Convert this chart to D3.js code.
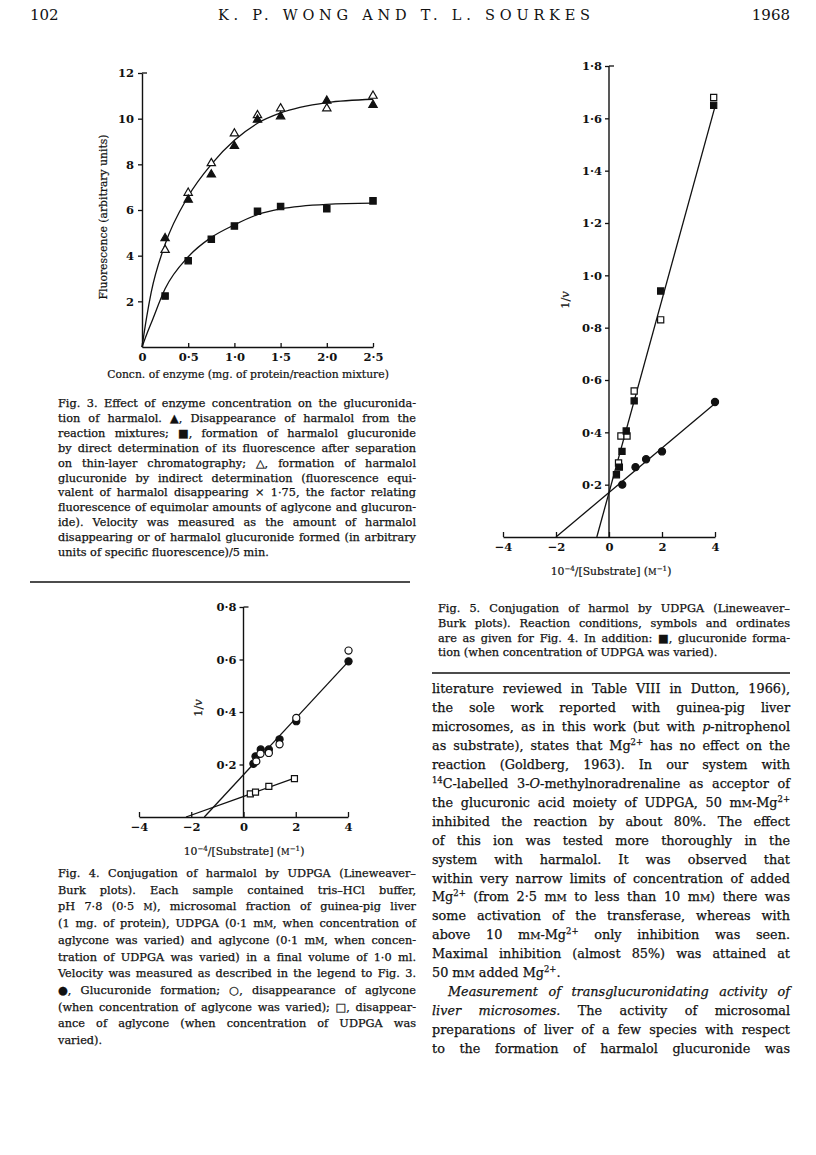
<!DOCTYPE html>
<html><head><meta charset="utf-8">
<script src="https://cdn.jsdelivr.net/npm/d3@7"></script>
<style>body{margin:0;background:#fff}svg{display:block}</style>
</head><body>
<svg id="page" width="816" height="1155"></svg>
<script>
// ---------- DATA ----------
// Fig. 3
const fig3X = [0.25, 0.5, 0.75, 1.0, 1.25, 1.5, 2.0, 2.5];
const fig3Disappearance = [4.76, 6.45, 7.55, 8.8, 9.95, 10.1, 10.78, 10.6];   // filled triangles
const fig3Indirect = [4.25, 6.75, 8.05, 9.35, 10.15, 10.45, 10.45, 11.0];     // open triangles
const fig3Direct = [2.23, 3.78, 4.72, 5.3, 5.95, 6.15, 6.05, 6.4];            // filled squares
const fig3CurveX = [0, 0.05, 0.1, 0.25, 0.5, 0.75, 1.0, 1.25, 1.5, 2.0, 2.5];
const fig3UpperCurve = [0, 1.3, 2.4, 4.5, 6.6, 8.0, 9.05, 9.8, 10.25, 10.7, 10.85];
const fig3LowerCurve = [0, 0.55, 1.05, 2.55, 3.95, 4.8, 5.35, 5.8, 6.05, 6.25, 6.3];
const fig3XTicks = [0, 0.5, 1.0, 1.5, 2.0, 2.5];
const fig3YTicks = [2, 4, 6, 8, 10, 12];

// Fig. 4
const fig4FilledCircX = [0.38, 0.46, 0.66, 0.97, 1.38, 2.02, 4.02];
const fig4FilledCircY = [0.203, 0.231, 0.257, 0.257, 0.296, 0.365, 0.593];
const fig4OpenCircX = [0.49, 0.65, 0.97, 1.38, 2.02, 4.02];
const fig4OpenCircY = [0.212, 0.241, 0.244, 0.277, 0.377, 0.634];
const fig4OpenSqX = [0.26, 0.46, 0.97, 1.95];
const fig4OpenSqY = [0.088, 0.095, 0.117, 0.146];
const fig4CircLineX = [-1.5, 4.02];
const fig4CircLineY = [0, 0.593];
const fig4SqLineX = [-2.2, 1.98];
const fig4SqLineY = [0, 0.149];
const fig4XTicks = [-4, -2, 0, 2, 4];
const fig4YTicks = [0.2, 0.4, 0.6, 0.8];

// Fig. 5
const fig5CircX = [0.5, 1.0, 1.4, 2.0, 4.0];
const fig5CircY = [0.2, 0.267, 0.297, 0.327, 0.516];
const fig5FilledSqX = [0.28, 0.39, 0.49, 0.65, 0.95, 1.95, 3.95];
const fig5FilledSqY = [0.238, 0.267, 0.327, 0.405, 0.52, 0.94, 1.65];
const fig5OpenSqX = [0.36, 0.45, 0.68, 0.95, 1.95, 3.95];
const fig5OpenSqY = [0.283, 0.386, 0.386, 0.558, 0.83, 1.68];
const fig5CircLineX = [-2.0, 4.0];
const fig5CircLineY = [0, 0.51];
const fig5SqLineX = [-0.46, 4.0];
const fig5SqLineY = [0, 1.645];
const fig5XTicks = [-4, -2, 0, 2, 4];
const fig5YTicks = [0.2, 0.4, 0.6, 0.8, 1.0, 1.2, 1.4, 1.6, 1.8];

// Text
const headerLeft = "102";
const headerTitle = "K. P. WONG AND T. L. SOURKES";
const headerRight = "1968";
const fig3AxisY = "Fluorescence (arbitrary units)";
const fig3AxisX = "Concn. of enzyme (mg. of protein/reaction mixture)";
const lbAxisY = "1/_v_";
const lbAxisX = "10^−4^/[Substrate] (~M~^−1^)";
const fig3Caption = [
  "Fig. 3. Effect of enzyme concentration on the glucuronida-",
  "tion of harmalol. ▲, Disappearance of harmalol from the",
  "reaction mixtures; ■, formation of harmalol glucuronide",
  "by direct determination of its fluorescence after separation",
  "on thin-layer chromatography; △, formation of harmalol",
  "glucuronide by indirect determination (fluorescence equi-",
  "valent of harmalol disappearing × 1·75, the factor relating",
  "fluorescence of equimolar amounts of aglycone and glucuron-",
  "ide). Velocity was measured as the amount of harmalol",
  "disappearing or of harmalol glucuronide formed (in arbitrary",
  "units of specific fluorescence)/5 min."
];
const fig4Caption = [
  "Fig. 4. Conjugation of harmalol by UDPGA (Lineweaver–",
  "Burk plots). Each sample contained tris–HCl buffer,",
  "pH 7·8 (0·5 ~M~), microsomal fraction of guinea-pig liver",
  "(1 mg. of protein), UDPGA (0·1 m~M~, when concentration of",
  "aglycone was varied) and aglycone (0·1 m~M~, when concen-",
  "tration of UDPGA was varied) in a final volume of 1·0 ml.",
  "Velocity was measured as described in the legend to Fig. 3.",
  "●, Glucuronide formation; ○, disappearance of aglycone",
  "(when concentration of aglycone was varied); □, disappear-",
  "ance of aglycone (when concentration of UDPGA was",
  "varied)."
];
const fig5Caption = [
  "Fig. 5. Conjugation of harmol by UDPGA (Lineweaver–",
  "Burk plots). Reaction conditions, symbols and ordinates",
  "are as given for Fig. 4. In addition: ■, glucuronide forma-",
  "tion (when concentration of UDPGA was varied)."
];
const bodyLines = [
  "literature reviewed in Table VIII in Dutton, 1966),",
  "the sole work reported with guinea-pig liver",
  "microsomes, as in this work (but with _p_-nitrophenol",
  "as substrate), states that Mg^2+^ has no effect on the",
  "reaction (Goldberg, 1963). In our system with",
  "^14^C-labelled 3-_O_-methylnoradrenaline as acceptor of",
  "the glucuronic acid moiety of UDPGA, 50 m~M~-Mg^2+^",
  "inhibited the reaction by about 80%. The effect",
  "of this ion was tested more thoroughly in the",
  "system with harmalol. It was observed that",
  "within very narrow limits of concentration of added",
  "Mg^2+^ (from 2·5 m~M~ to less than 10 m~M~) there was",
  "some activation of the transferase, whereas with",
  "above 10 m~M~-Mg^2+^ only inhibition was seen.",
  "Maximal inhibition (almost 85%) was attained at",
  "50 m~M~ added Mg^2+^.",
  "_Measurement of transglucuronidating activity of_",
  "_liver microsomes._ The activity of microsomal",
  "preparations of liver of a few species with respect",
  "to the formation of harmalol glucuronide was"
];
const bodyLastLines = [15];      // paragraph-final (not justified)
const bodyIndentLines = [16];    // paragraph-start indent

// ---------- DRAWING ----------
const svg = d3.select("#page");
svg.append("rect").attr("width", 816).attr("height", 1155).attr("fill", "#fff");
const SERIF = "'DejaVu Serif', 'Liberation Serif', serif";
const INK = "#111";

function rich(sel, str, fs) {
  const tokens = str.split(/(_[^_]+_|\^[^^]+\^|~[^~]+~)/).filter(s => s.length);
  let shifted = false;
  tokens.forEach(t => {
    const ts = sel.append("tspan");
    let txt = t, dy = 0;
    if (t[0] === "_" && t.length > 2) { ts.attr("font-style", "italic"); txt = t.slice(1, -1); }
    else if (t[0] === "^" && t.length > 2) { ts.attr("font-size", fs * 0.66); txt = t.slice(1, -1); dy = -fs * 0.4; }
    else if (t[0] === "~" && t.length > 2) { ts.attr("font-size", fs * 0.78); txt = t.slice(1, -1); }
    if (dy !== 0) { ts.attr("dy", dy); shifted = true; }
    else if (shifted) { ts.attr("dy", fs * 0.4); shifted = false; }
    ts.text(txt);
  });
}

function paragraph(lines, x0, x1, yFirst, lead, fs, lastIdx, indentIdx, indent) {
  lines.forEach((ln, i) => {
    const xi = (indentIdx.includes(i)) ? x0 + indent : x0;
    const t = svg.append("text")
      .attr("x", xi).attr("y", yFirst + i * lead)
      .attr("font-family", SERIF).attr("font-size", fs).attr("fill", INK)
      .attr("stroke", INK).attr("stroke-width", 0.25)
      .attr("xml:space", "preserve");
    rich(t, ln, fs);
    const nat = t.node().getComputedTextLength();
    const w = x1 - xi;
    if (nat > w) {
      t.attr("textLength", w).attr("lengthAdjust", "spacingAndGlyphs");
    } else if (!lastIdx.includes(i)) {
      const n = (ln.match(/ /g) || []).length;
      if (n > 0) t.attr("word-spacing", (w - nat) / n);
    }
  });
}

// Header
svg.append("text").attr("x", 30).attr("y", 20).attr("font-family", SERIF)
  .attr("font-size", 15).attr("fill", INK).text(headerLeft);
svg.append("text").attr("x", 218).attr("y", 20).attr("font-family", SERIF)
  .attr("font-size", 14.5).attr("fill", INK).attr("textLength", 372)
  .attr("lengthAdjust", "spacing").text(headerTitle);
svg.append("text").attr("x", 790).attr("y", 20).attr("text-anchor", "end")
  .attr("font-family", SERIF).attr("font-size", 15).attr("fill", INK).text(headerRight);

const dotFmt = d => d.toFixed(1).replace(".", "·");
const negFmt = d => d < 0 ? "−" + Math.abs(d) : String(d);

function styleAxis(g) {
  g.select(".domain").attr("stroke", INK).attr("stroke-width", 1.4);
  g.selectAll(".tick line").attr("stroke", INK).attr("stroke-width", 1.3);
  g.selectAll(".tick text").attr("font-family", SERIF).attr("font-weight", "bold")
    .attr("font-size", 11.5).attr("fill", INK);
}

function markers(g, xs, ys, x, y, type, filled, size) {
  const sym = d3.symbol().type(type).size(size);
  g.selectAll(null).data(xs.map((v, i) => [v, ys[i]])).enter().append("path")
    .attr("d", sym)
    .attr("transform", d => `translate(${x(d[0])},${y(d[1])})`)
    .attr("fill", filled ? INK : "#fff").attr("stroke", INK).attr("stroke-width", 1.2);
}

function straight(g, xs, ys, x, y) {
  g.append("path").datum(xs.map((v, i) => [v, ys[i]]))
    .attr("d", d3.line().x(d => x(d[0])).y(d => y(d[1])))
    .attr("fill", "none").attr("stroke", INK).attr("stroke-width", 1.3);
}

function axisLabelRot(x, y, str, fs) {
  const t = svg.append("text").attr("transform", `translate(${x},${y}) rotate(-90)`)
    .attr("text-anchor", "middle").attr("font-family", SERIF).attr("font-size", fs).attr("fill", INK)
    .attr("stroke", INK).attr("stroke-width", 0.2);
  rich(t, str, fs);
}
function axisLabel(x, y, str, fs) {
  const t = svg.append("text").attr("x", x).attr("y", y)
    .attr("text-anchor", "middle").attr("font-family", SERIF).attr("font-size", fs).attr("fill", INK)
    .attr("stroke", INK).attr("stroke-width", 0.2);
  rich(t, str, fs);
}

// ----- Fig. 3 -----
{
  const x = d3.scaleLinear().domain([0, 2.5]).range([142, 373]);
  const y = d3.scaleLinear().domain([0, 12]).range([347, 73]);
  const g = svg.append("g");
  const gx = g.append("g").attr("transform", `translate(0,${y(0)})`)
    .call(d3.axisBottom(x).tickValues(fig3XTicks).tickSize(-4).tickSizeOuter(0).tickPadding(6)
      .tickFormat(d => d === 0 ? "0" : dotFmt(d)));
  styleAxis(gx);
  const gy = g.append("g").attr("transform", `translate(${x(0)},0)`)
    .call(d3.axisLeft(y).tickValues(fig3YTicks).tickSize(4).tickSizeOuter(0).tickPadding(4)
      .tickFormat(d => String(d)));
  styleAxis(gy);
  g.append("line").attr("x1", x(0)).attr("x2", x(0) + 5).attr("y1", y(12)).attr("y2", y(12))
    .attr("stroke", INK).attr("stroke-width", 1.3);
  const curve = d3.line().x(d => x(d[0])).y(d => y(d[1])).curve(d3.curveMonotoneX);
  g.append("path").datum(fig3CurveX.map((v, i) => [v, fig3UpperCurve[i]])).attr("d", curve)
    .attr("fill", "none").attr("stroke", INK).attr("stroke-width", 1.3);
  g.append("path").datum(fig3CurveX.map((v, i) => [v, fig3LowerCurve[i]])).attr("d", curve)
    .attr("fill", "none").attr("stroke", INK).attr("stroke-width", 1.3);
  markers(g, fig3X, fig3Indirect, x, y, d3.symbolTriangle, false, 30);
  markers(g, fig3X, fig3Disappearance, x, y, d3.symbolTriangle, true, 30);
  markers(g, fig3X, fig3Direct, x, y, d3.symbolSquare, true, 40);
  axisLabelRot(107, 217, fig3AxisY, 10.8);
  axisLabel(248, 378, fig3AxisX, 10.8);
}

// ----- Fig. 5 -----
{
  const x = d3.scaleLinear().domain([-4, 4]).range([503, 715]);
  const y = d3.scaleLinear().domain([0, 1.8]).range([537, 66]);
  const g = svg.append("g");
  const gx = g.append("g").attr("transform", `translate(0,${y(0)})`)
    .call(d3.axisBottom(x).tickValues(fig5XTicks).tickSize(-5).tickSizeOuter(0).tickPadding(6).tickFormat(negFmt));
  styleAxis(gx);
  const gy = g.append("g").attr("transform", `translate(${x(0)},0)`)
    .call(d3.axisLeft(y).tickValues(fig5YTicks).tickSize(4).tickSizeOuter(0).tickPadding(3).tickFormat(dotFmt));
  styleAxis(gy);
  gy.select(".domain").attr("d", `M0,${y(0)}V${y(1.8)}`);
  g.append("line").attr("x1", x(0)).attr("x2", x(0) + 5).attr("y1", y(1.8)).attr("y2", y(1.8))
    .attr("stroke", INK).attr("stroke-width", 1.3);
  straight(g, fig5CircLineX, fig5CircLineY, x, y);
  straight(g, fig5SqLineX, fig5SqLineY, x, y);
  markers(g, fig5OpenSqX, fig5OpenSqY, x, y, d3.symbolSquare, false, 38);
  markers(g, fig5FilledSqX, fig5FilledSqY, x, y, d3.symbolSquare, true, 38);
  markers(g, fig5CircX, fig5CircY, x, y, d3.symbolCircle, true, 40);
  axisLabelRot(569, 300, lbAxisY, 11.5);
  axisLabel(611, 575, lbAxisX, 10.8);
}

// ----- Fig. 4 -----
{
  const x = d3.scaleLinear().domain([-4, 4]).range([139, 348]);
  const y = d3.scaleLinear().domain([0, 0.8]).range([817, 607]);
  const g = svg.append("g");
  const gx = g.append("g").attr("transform", `translate(0,${y(0)})`)
    .call(d3.axisBottom(x).tickValues(fig4XTicks).tickSize(-5).tickSizeOuter(0).tickPadding(6).tickFormat(negFmt));
  styleAxis(gx);
  const gy = g.append("g").attr("transform", `translate(${x(0)},0)`)
    .call(d3.axisLeft(y).tickValues(fig4YTicks).tickSize(4).tickSizeOuter(0).tickPadding(3).tickFormat(dotFmt));
  styleAxis(gy);
  gy.select(".domain").attr("d", `M0,${y(0)}V${y(0.8)}`);
  g.append("line").attr("x1", x(0)).attr("x2", x(0) + 5).attr("y1", y(0.8)).attr("y2", y(0.8))
    .attr("stroke", INK).attr("stroke-width", 1.3);
  straight(g, fig4CircLineX, fig4CircLineY, x, y);
  straight(g, fig4SqLineX, fig4SqLineY, x, y);
  markers(g, fig4OpenSqX, fig4OpenSqY, x, y, d3.symbolSquare, false, 36);
  markers(g, fig4FilledCircX, fig4FilledCircY, x, y, d3.symbolCircle, true, 40);
  markers(g, fig4OpenCircX, fig4OpenCircY, x, y, d3.symbolCircle, false, 40);
  axisLabelRot(202, 708, lbAxisY, 11.5);
  axisLabel(244, 855, lbAxisX, 10.8);
}

// ----- Captions, rules, body -----
paragraph(fig3Caption, 58, 416, 407, 14.9, 11.3, [10], [], 0);
svg.append("line").attr("x1", 30).attr("x2", 410).attr("y1", 582).attr("y2", 582)
  .attr("stroke", INK).attr("stroke-width", 1.3);
paragraph(fig5Caption, 438, 790, 612, 14.8, 11.3, [3], [], 0);
svg.append("line").attr("x1", 432).attr("x2", 790).attr("y1", 673).attr("y2", 673)
  .attr("stroke", INK).attr("stroke-width", 1.3);
paragraph(fig4Caption, 58, 416, 877, 16.7, 11.3, [10], [], 0);
paragraph(bodyLines, 432, 790, 693, 18.95, 12.8, bodyLastLines, bodyIndentLines, 16);
</script>
</body></html>
